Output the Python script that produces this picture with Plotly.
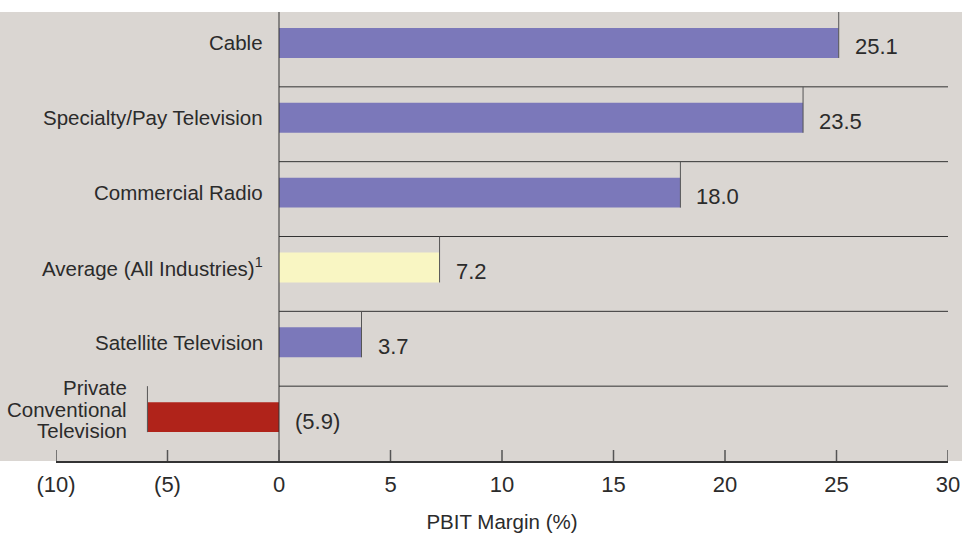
import plotly.graph_objects as go

categories = ["Cable", "Specialty/Pay Television", "Commercial Radio",
              "Average (All Industries)<sup>1</sup>", "Satellite Television",
              "Private<br>Conventional<br>Television"]
values = [25.1, 23.5, 18.0, 7.2, 3.7, -5.9]
bar_colors = ["#7B78BA", "#7B78BA", "#7B78BA", "#F9F6C3", "#7B78BA", "#B0231A"]
tick_vals = [-10, -5, 0, 5, 10, 15, 20, 25, 30]
tick_text = ["(10)", "(5)", "0", "5", "10", "15", "20", "25", "30"]
x_title = "PBIT Margin (%)"

BG = "#DAD6D2"
TXT = "#2B2B2B"
FONT = "Liberation Sans"
FS = 20.5
FN = 22

n = len(categories)
band_top = [n - i for i in range(n)]           # top of each band in y units
centers = [t - 0.414 for t in band_top]
bar_w = 0.40

fig = go.Figure()
fig.add_trace(go.Bar(
    x=values, y=centers, orientation="h", width=bar_w,
    marker=dict(color=bar_colors, line=dict(width=0)),
    hoverinfo="skip", showlegend=False,
))

shapes = []
# gray panel continued into the side margins
shapes.append(dict(type="rect", xref="paper", yref="paper", x0=-0.1, x1=0,
                   y0=0, y1=1, fillcolor=BG, line=dict(width=0), layer="below"))
shapes.append(dict(type="rect", xref="paper", yref="paper", x0=1, x1=1.1,
                   y0=0, y1=1, fillcolor=BG, line=dict(width=0), layer="below"))
for i in range(1, n):
    shapes.append(dict(type="line", xref="x", yref="y", x0=0, x1=30,
                       y0=band_top[i], y1=band_top[i],
                       line=dict(color="#333333", width=1)))
for i, v in enumerate(values):
    shapes.append(dict(type="line", xref="x", yref="y", x0=v, x1=v,
                       y0=band_top[i], y1=centers[i] - bar_w / 2,
                       line=dict(color="#555555", width=1)))
shapes.append(dict(type="line", xref="x", yref="y", x0=0, x1=0, y0=0, y1=n,
                   line=dict(color="#333333", width=1)))
# inside tick marks on the x axis
for tv in tick_vals:
    shapes.append(dict(type="line", xref="x", yref="y", x0=tv, x1=tv,
                       ysizemode="pixel", yanchor=0, y0=0, y1=11,
                       line=dict(color="#555555", width=1.5), layer="above"))

annotations = []
for i, (c, v) in enumerate(zip(categories, values)):
    lines = c.split("<br>")
    k = len(lines)
    for j, ln in enumerate(lines):
        annotations.append(dict(
            x=min(v, 0), y=centers[i], xref="x", yref="y", text=ln,
            showarrow=False, xanchor="right", yanchor="middle",
            xshift=-14 if v >= 0 else -18,
            yshift=(-(j - (k - 1) / 2) * 21.5) + (8 if k > 1 else 0),
            font=dict(family=FONT, size=FS, color=TXT)))
    lab = f"{v:.1f}" if v >= 0 else f"({abs(v):.1f})"
    annotations.append(dict(
        x=max(v, 0), y=centers[i], xref="x", yref="y", text=lab,
        showarrow=False, xanchor="left", yanchor="middle", xshift=14, yshift=-4,
        font=dict(family=FONT, size=FN, color=TXT)))

fig.update_layout(
    width=962, height=536,
    margin=dict(l=56, r=14, t=12, b=75),
    paper_bgcolor="white", plot_bgcolor=BG,
    shapes=shapes, annotations=annotations,
    font=dict(family=FONT, size=FS, color=TXT),
    xaxis=dict(range=[-10, 30], tickvals=tick_vals, ticktext=tick_text,
               automargin=False,
               showgrid=False, zeroline=False, showline=True,
               linecolor="#333333", linewidth=2,
               ticks="", ticklabelstandoff=3,
               tickfont=dict(family=FONT, size=FN, color=TXT),
               title=dict(text=x_title, font=dict(family=FONT, size=FS, color=TXT),
                          standoff=18),
               fixedrange=True),
    yaxis=dict(range=[0, n], showgrid=False, zeroline=False, showticklabels=False,
               showline=False, fixedrange=True, automargin=False),
)

fig.write_html("out.html")
